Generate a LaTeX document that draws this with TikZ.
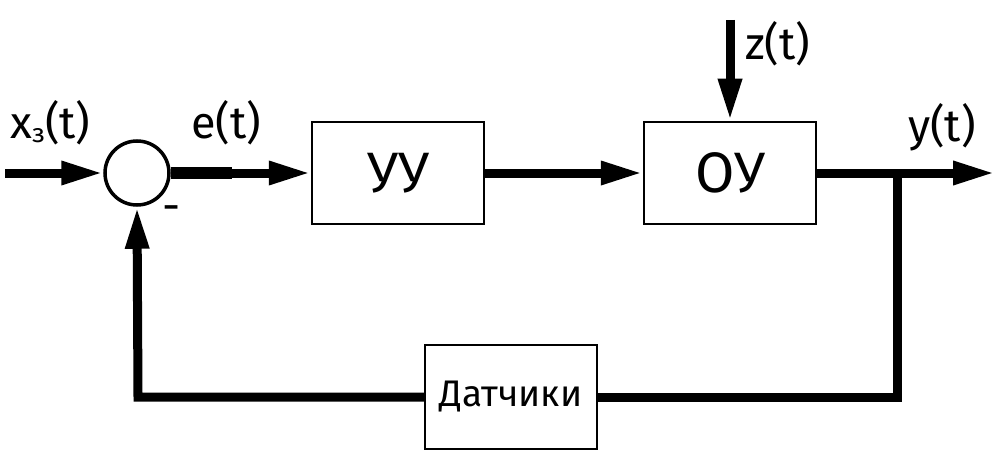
\documentclass[tikz,border=0pt]{standalone}
\usepackage{fontspec}
\setmainfont{Fira Sans}
\usetikzlibrary{arrows.meta}
\begin{document}
\begin{tikzpicture}[x=1pt,y=-1pt,
  blk/.style={draw,line width=2.5pt,minimum width=172pt,minimum height=102pt,inner sep=0pt},
  sig/.style={line width=9pt},
  arr/.style={sig,-{Triangle[length=42pt,width=22pt]}},
  lbl/.style={inner sep=0pt,anchor=base west,font=\fontsize{45}{50}\selectfont}]
\useasboundingbox (0,0) rectangle (1000,468);
\node[draw,circle,line width=3.5pt,minimum size=64pt,inner sep=0pt] (sum) at (137,173) {};
\node[blk] (uu) at (398,173) {\fontsize{57}{62}\selectfont УУ};
\node[blk] (oy) at (730,173) {\fontsize{57}{62}\selectfont ОУ};
\node[draw,line width=2.5pt,minimum width=172pt,minimum height=104pt,inner sep=0pt] (dat) at (511,397) {\fontsize{37}{42}\selectfont Датчики};
\coordinate (in) at (5,173);
\coordinate (zin) at (730,20);
\coordinate (out) at (995,173);
\coordinate (br) at (897,173);
\coordinate (brd) at (897,397);
\coordinate (fbl) at (138,397);
\draw[arr] (in) -- (sum.west);
\draw[line width=12pt] (sum.east) -- (232,173) coordinate (ec);
\draw[arr] (ec) -- (uu.west);
\draw[arr] (uu.east) -- (oy.west);
\draw[arr] (zin) -- (oy.north);
\draw[arr] (oy.east) -- (out);
\draw[sig] (br) -- (brd) -- (dat.east);
\draw[arr] (dat.west) -- (fbl) -- (sum.south);
\node[lbl] (xl) at (10,139) {x\raisebox{-0.08em}{\fontsize{26}{26}\selectfont з}(t)};
\node[lbl] (el) at (191,139) {e(t)};
\node[lbl] (zl) at (745,60) {z(t)};
\node[lbl] (yl) at (908,141) {y(t)};
\node[inner sep=0pt,font=\fontsize{45}{50}\selectfont] (minus) at (172,214) {-};
\end{tikzpicture}
\end{document}
